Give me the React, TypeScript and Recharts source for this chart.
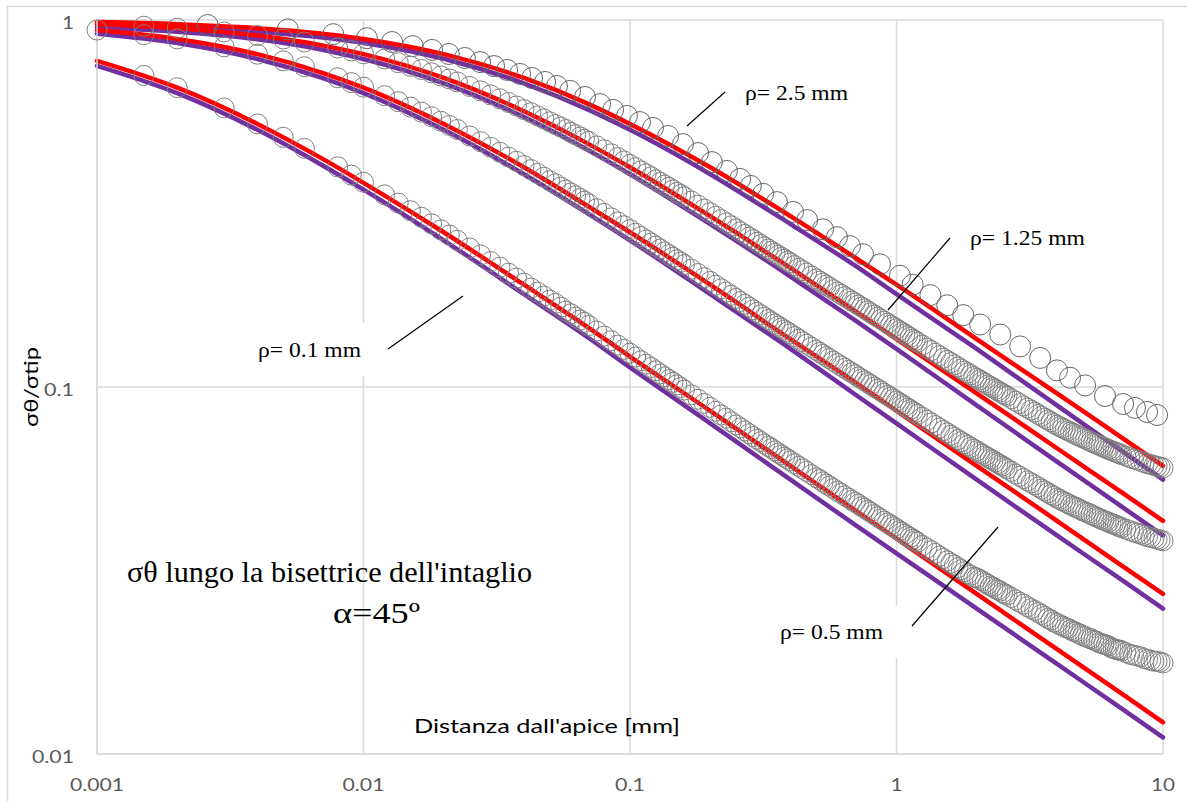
import { ComposedChart, Line, Scatter, XAxis, YAxis, CartesianGrid } from 'recharts';

const W = 1187;
const H = 801;
const serif = "'Liberation Serif', 'Times New Roman', serif";
const sans = "Lato, 'Noto Sans', sans-serif";
const RED = '#ff0000';
const PURPLE = '#7030a0';

// distance from the notch tip (mm) where the continuous curves are sampled
const curveX = [0.001, 0.002, 0.004, 0.007, 0.01, 0.02, 0.04, 0.07, 0.1, 0.2, 0.4, 0.7, 1, 2, 4, 7, 10];

const redRho25 = [0.987, 0.974, 0.950, 0.918, 0.888, 0.807, 0.695, 0.590, 0.521, 0.397, 0.292, 0.225, 0.190, 0.135, 0.0961, 0.0728, 0.0610];
const purpleRho25 = [0.969, 0.954, 0.929, 0.896, 0.866, 0.784, 0.672, 0.569, 0.502, 0.380, 0.278, 0.214, 0.179, 0.127, 0.0891, 0.0670, 0.0559];
const redRho125 = [0.974, 0.950, 0.907, 0.853, 0.807, 0.695, 0.564, 0.459, 0.397, 0.292, 0.211, 0.161, 0.135, 0.0961, 0.0681, 0.0516, 0.0432];
const purpleRho125 = [0.954, 0.929, 0.886, 0.830, 0.783, 0.672, 0.544, 0.441, 0.380, 0.278, 0.200, 0.152, 0.127, 0.0891, 0.0626, 0.0472, 0.0394];
const redRho05 = [0.939, 0.888, 0.807, 0.718, 0.654, 0.521, 0.397, 0.310, 0.264, 0.190, 0.135, 0.103, 0.0861, 0.0610, 0.0432, 0.0326, 0.0273];
const purpleRho05 = [0.918, 0.866, 0.783, 0.695, 0.632, 0.502, 0.380, 0.296, 0.251, 0.179, 0.127, 0.0954, 0.0796, 0.0559, 0.0394, 0.0298, 0.0249];
const redRho01 = [0.774, 0.654, 0.521, 0.419, 0.360, 0.264, 0.190, 0.145, 0.121, 0.0861, 0.0610, 0.0461, 0.0386, 0.0273, 0.0193, 0.0146, 0.0122];
const purpleRho01 = [0.750, 0.632, 0.502, 0.402, 0.345, 0.251, 0.179, 0.136, 0.113, 0.0796, 0.0559, 0.0421, 0.0352, 0.0249, 0.0176, 0.0133, 0.0111];

// rho = 2.5 mm: sparse points
const pointsRho25X = [0.0026, 0.0052, 0.0077, 0.0103, 0.0128, 0.0153, 0.0181, 0.0209, 0.024, 0.0274, 0.0309, 0.0346, 0.0387, 0.0429, 0.048, 0.0532, 0.0596, 0.0678, 0.0772, 0.0864, 0.0974, 0.109, 0.122, 0.139, 0.158, 0.18, 0.203, 0.231, 0.259, 0.284, 0.316, 0.356, 0.409, 0.462, 0.53, 0.598, 0.669, 0.749, 0.867, 1.03, 1.15, 1.34, 1.55, 1.78, 2.06, 2.45, 2.91, 3.46, 4.0, 4.48, 5.1, 6.06, 7.08, 7.85, 8.71, 9.5];
const pointsRho25Y = [0.969, 0.943, 0.915, 0.892, 0.871, 0.849, 0.829, 0.808, 0.788, 0.768, 0.749, 0.731, 0.713, 0.695, 0.678, 0.661, 0.641, 0.617, 0.590, 0.569, 0.548, 0.527, 0.508, 0.483, 0.459, 0.434, 0.410, 0.388, 0.369, 0.353, 0.336, 0.319, 0.300, 0.285, 0.269, 0.256, 0.242, 0.230, 0.216, 0.201, 0.190, 0.178, 0.167, 0.157, 0.148, 0.139, 0.129, 0.120, 0.111, 0.106, 0.101, 0.0945, 0.0899, 0.0877, 0.0855, 0.0839];

// dense points shared by rho = 1.25, 0.5 and 0.1 mm
const denseX = [
  0.001, 0.0015, 0.002, 0.003, 0.004, 0.005, 0.006, 0.008, 0.009, 0.01,
  0.012, 0.0135, 0.015, 0.0165, 0.018, 0.0195, 0.021, 0.0225, 0.025, 0.0275,
  0.03, 0.0325, 0.035, 0.0375, 0.04, 0.0425, 0.045, 0.0475, 0.05, 0.0525,
  0.055, 0.0575, 0.06, 0.0625, 0.065, 0.0675, 0.07, 0.075, 0.08, 0.085,
  0.09, 0.095, 0.1, 0.105, 0.11, 0.115, 0.12, 0.125, 0.13, 0.135,
  0.14, 0.145, 0.15, 0.155, 0.16, 0.17, 0.18, 0.19, 0.2, 0.21,
  0.22, 0.23, 0.24, 0.25, 0.26, 0.27, 0.28, 0.29, 0.3, 0.31,
  0.32, 0.33, 0.34, 0.35, 0.36, 0.37, 0.38, 0.39, 0.4, 0.415,
  0.43, 0.445, 0.46, 0.48, 0.5, 0.515, 0.53, 0.545, 0.56, 0.58,
  0.6, 0.62, 0.64, 0.66, 0.68, 0.7, 0.72, 0.74, 0.76, 0.78,
  0.8, 0.825, 0.85, 0.875, 0.9, 0.925, 0.95, 0.975, 1, 1.025,
  1.05, 1.075, 1.1, 1.125, 1.15, 1.175, 1.2, 1.25, 1.3, 1.35,
  1.4, 1.45, 1.5, 1.55, 1.6, 1.65, 1.7, 1.75, 1.8, 1.85,
  1.9, 1.95, 2, 2.05, 2.1, 2.15, 2.2, 2.25, 2.3, 2.35,
  2.4, 2.45, 2.5, 2.55, 2.6, 2.7, 2.8, 2.9, 3, 3.1,
  3.2, 3.3, 3.4, 3.5, 3.6, 3.7, 3.8, 3.9, 4, 4.1,
  4.2, 4.3, 4.4, 4.5, 4.6, 4.7, 4.8, 4.9, 5, 5.125,
  5.25, 5.375, 5.5, 5.625, 5.75, 5.875, 6, 6.125, 6.25, 6.375,
  6.5, 6.625, 6.75, 6.875, 7, 7.25, 7.5, 7.75, 8, 8.25,
  8.5, 8.75, 9, 9.25, 9.5, 9.75, 10,
];
const pointsRho125 = [
  null, 0.962, 0.950, 0.928, 0.907, 0.888, 0.871, 0.839, 0.824, 0.809,
  0.783, 0.765, 0.748, 0.733, 0.718, 0.704, 0.691, 0.678, 0.659, 0.641,
  0.625, 0.610, 0.596, 0.583, 0.570, 0.559, 0.548, 0.538, 0.528, 0.519,
  0.511, 0.503, 0.494, 0.487, 0.480, 0.473, 0.467, 0.454, 0.443, 0.432,
  0.422, 0.413, 0.404, 0.396, 0.388, 0.381, 0.374, 0.367, 0.361, 0.355,
  0.350, 0.3445, 0.339, 0.3345, 0.330, 0.321, 0.313, 0.3054, 0.2985, 0.292,
  0.286, 0.2802, 0.275, 0.2697, 0.265, 0.2604, 0.256, 0.252, 0.248, 0.2444,
  0.241, 0.2376, 0.2344, 0.2313, 0.2284, 0.2255, 0.2229, 0.2203, 0.2178, 0.2142,
  0.2107, 0.2075, 0.2044, 0.2005, 0.1969, 0.1943, 0.1918, 0.1894, 0.1871, 0.1842,
  0.1814, 0.1788, 0.1762, 0.1739, 0.1715, 0.1694, 0.1672, 0.1651, 0.1633, 0.1612,
  0.1593, 0.1571, 0.1550, 0.1530, 0.1511, 0.1492, 0.1475, 0.1457, 0.1441, 0.1424,
  0.1409, 0.1394, 0.1379, 0.1365, 0.1351, 0.1338, 0.1325, 0.1301, 0.1277, 0.1257,
  0.1236, 0.1217, 0.1198, 0.1181, 0.1165, 0.1149, 0.1134, 0.1119, 0.1105, 0.1092,
  0.1080, 0.1067, 0.1056, 0.1045, 0.1034, 0.1024, 0.1013, 0.1004, 0.0995, 0.0986,
  0.0977, 0.0968, 0.0960, 0.0952, 0.0944, 0.0929, 0.0915, 0.0901, 0.0888, 0.0876,
  0.0865, 0.0854, 0.0842, 0.0832, 0.0822, 0.0813, 0.0804, 0.0795, 0.0787, 0.0780,
  0.0773, 0.0766, 0.0760, 0.0754, 0.0748, 0.0742, 0.0737, 0.0732, 0.0727, 0.0721,
  0.0715, 0.0709, 0.0704, 0.0699, 0.0694, 0.0689, 0.0685, 0.0680, 0.0676, 0.0672,
  0.0668, 0.0665, 0.0661, 0.0658, 0.0654, 0.0648, 0.0642, 0.0637, 0.0632, 0.0627,
  0.0622, 0.0618, 0.0615, 0.0611, 0.0608, 0.0605, 0.0602,
];
const pointsRho05 = [
  0.939, 0.912, 0.888, 0.845, 0.807, 0.774, 0.746, 0.696, 0.675, 0.656,
  0.622, 0.599, 0.579, 0.561, 0.545, 0.530, 0.516, 0.503, 0.483, 0.466,
  0.450, 0.436, 0.423, 0.412, 0.401, 0.391, 0.382, 0.373, 0.365, 0.358,
  0.3506, 0.344, 0.3378, 0.332, 0.3263, 0.321, 0.3157, 0.306, 0.2972, 0.289,
  0.2818, 0.275, 0.2685, 0.2625, 0.2569, 0.2516, 0.2467, 0.242, 0.2376, 0.2335,
  0.2295, 0.2257, 0.2221, 0.2187, 0.2155, 0.2093, 0.2038, 0.1986, 0.1939, 0.1894,
  0.1852, 0.1814, 0.1777, 0.1743, 0.1710, 0.1680, 0.1651, 0.1623, 0.1597, 0.1572,
  0.1549, 0.1527, 0.1506, 0.1485, 0.1466, 0.1447, 0.1430, 0.1413, 0.1396, 0.1373,
  0.1350, 0.1328, 0.1308, 0.1283, 0.1259, 0.1242, 0.1226, 0.1210, 0.1195, 0.1176,
  0.1158, 0.1141, 0.1125, 0.1109, 0.1094, 0.1080, 0.1065, 0.1052, 0.1039, 0.1027,
  0.1015, 0.1000, 0.0987, 0.0974, 0.0961, 0.0949, 0.0938, 0.0927, 0.0916, 0.0906,
  0.0895, 0.0886, 0.0876, 0.0868, 0.0858, 0.0851, 0.0842, 0.0827, 0.0812, 0.0798,
  0.0785, 0.0773, 0.0761, 0.0750, 0.0739, 0.0729, 0.0719, 0.0710, 0.0701, 0.0693,
  0.0685, 0.0677, 0.0670, 0.0663, 0.0656, 0.0649, 0.0643, 0.0637, 0.0631, 0.0625,
  0.0619, 0.0614, 0.0609, 0.0604, 0.0598, 0.0589, 0.0579, 0.0571, 0.0563, 0.0555,
  0.0548, 0.0541, 0.0534, 0.0527, 0.0521, 0.0515, 0.0509, 0.0504, 0.0498, 0.0494,
  0.0489, 0.0485, 0.0481, 0.0477, 0.0473, 0.0470, 0.0467, 0.0463, 0.0460, 0.0456,
  0.0453, 0.0449, 0.0446, 0.0442, 0.0439, 0.0436, 0.0433, 0.0431, 0.0428, 0.0425,
  0.0423, 0.0421, 0.0418, 0.0416, 0.0414, 0.0410, 0.0406, 0.0403, 0.0400, 0.0397,
  0.0394, 0.0391, 0.0389, 0.0387, 0.0385, 0.0383, 0.0381,
];
const pointsRho01 = [
  null, 0.706, 0.654, 0.576, 0.521, 0.479, 0.447, 0.398, 0.378, 0.3614,
  0.3339, 0.317, 0.3022, 0.290, 0.2784, 0.268, 0.2594, 0.251, 0.2392, 0.229,
  0.2197, 0.212, 0.2042, 0.198, 0.1918, 0.186, 0.1814, 0.177, 0.1725, 0.169,
  0.1650, 0.161, 0.1583, 0.155, 0.1523, 0.150, 0.1470, 0.1421, 0.1377, 0.1337,
  0.1301, 0.1267, 0.1236, 0.1207, 0.1179, 0.1154, 0.1130, 0.1107, 0.1086, 0.1066,
  0.1047, 0.1030, 0.1013, 0.0997, 0.0981, 0.0952, 0.0926, 0.0902, 0.0880, 0.0859,
  0.0839, 0.0822, 0.0804, 0.0788, 0.0774, 0.0759, 0.0746, 0.0733, 0.0721, 0.0710,
  0.0699, 0.0689, 0.0680, 0.0670, 0.0661, 0.0653, 0.0644, 0.0637, 0.0629, 0.0618,
  0.0608, 0.0598, 0.0589, 0.0577, 0.0566, 0.0559, 0.0551, 0.0544, 0.0537, 0.0529,
  0.0520, 0.0513, 0.0505, 0.0498, 0.0491, 0.0485, 0.0479, 0.0472, 0.0467, 0.0461,
  0.0456, 0.0449, 0.0443, 0.0437, 0.0431, 0.0426, 0.0421, 0.0416, 0.0411, 0.0406,
  0.0402, 0.0397, 0.0393, 0.0389, 0.0385, 0.0381, 0.0378, 0.0370, 0.0364, 0.0358,
  0.0352, 0.0346, 0.0341, 0.0336, 0.0331, 0.0327, 0.0322, 0.0318, 0.0314, 0.0310,
  0.0307, 0.0303, 0.0302, 0.0299, 0.0296, 0.0293, 0.0290, 0.0287, 0.0285, 0.0282,
  0.0280, 0.0278, 0.0275, 0.0273, 0.0271, 0.0267, 0.0263, 0.0259, 0.0256, 0.0252,
  0.0249, 0.0246, 0.0243, 0.0240, 0.0237, 0.0234, 0.0232, 0.0229, 0.0227, 0.0225,
  0.0223, 0.0221, 0.0220, 0.0218, 0.0216, 0.0215, 0.0213, 0.0212, 0.0210, 0.0209,
  0.0207, 0.0206, 0.0204, 0.0203, 0.0201, 0.0200, 0.0199, 0.0198, 0.0197, 0.0195,
  0.0194, 0.0193, 0.0192, 0.0192, 0.0191, 0.0189, 0.0187, 0.0186, 0.0185, 0.0184,
  0.0182, 0.0181, 0.0180, 0.0179, 0.0179, 0.0178, 0.0177,
];

const xTicks = [0.001, 0.01, 0.1, 1, 10];
const yTicks = [0.01, 0.1, 1];

const rows = (xs: number[], ys: (number | null)[]) =>
  xs.map((x, i) => ({ x, y: ys[i] })).filter((p) => p.y != null);

const curves = [
  { key: 'p25', data: rows(curveX, purpleRho25), color: PURPLE },
  { key: 'p125', data: rows(curveX, purpleRho125), color: PURPLE },
  { key: 'p05', data: rows(curveX, purpleRho05), color: PURPLE },
  { key: 'p01', data: rows(curveX, purpleRho01), color: PURPLE },
  { key: 'r25', data: rows(curveX, redRho25), color: RED },
  { key: 'r125', data: rows(curveX, redRho125), color: RED },
  { key: 'r05', data: rows(curveX, redRho05), color: RED },
  { key: 'r01', data: rows(curveX, redRho01), color: RED },
];

const points = [
  { key: 'c25', data: rows(pointsRho25X, pointsRho25Y), color: '#666666', r: 10.5 },
  { key: 'c125', data: rows(denseX, pointsRho125), color: '#808080', r: 10 },
  { key: 'c05', data: rows(denseX, pointsRho05), color: '#808080', r: 10 },
  { key: 'c01', data: rows(denseX, pointsRho01), color: '#808080', r: 10 },
];

// callouts: text baseline position, text width and pointer segment
const notes = [
  { text: 'ρ= 2.5 mm', x: 745, y: 100, w: 103, line: [725, 92, 687, 126] },
  { text: 'ρ= 1.25 mm', x: 970, y: 245, w: 115, line: [950, 238, 888, 310] },
  { text: 'ρ= 0.1 mm', x: 258, y: 357, w: 103, line: [463, 296, 388, 349] },
  { text: 'ρ= 0.5 mm', x: 780, y: 639, w: 103, line: [998, 527, 912, 626] },
];

const tickLen = (s: string) => {
  const dot = s.includes('.');
  return (s.length - (dot ? 1 : 0)) * 12 + (dot ? 6 : 0);
};

function XTick({ x, y, payload }: any) {
  const s = String(payload.value);
  return (
    <text x={x} y={y} dy={15} textAnchor="middle" fill="#595959" fontSize={18} fontFamily={sans}
      textLength={tickLen(s)} lengthAdjust="spacingAndGlyphs">{s}</text>
  );
}

function YTick({ x, y, payload }: any) {
  const s = String(payload.value);
  return (
    <text x={x} y={y} dy={8.5} textAnchor="end" fill="#595959" fontSize={18} fontFamily={sans}
      textLength={tickLen(s)} lengthAdjust="spacingAndGlyphs">{s}</text>
  );
}

export default function App() {
  return (
    <div style={{ position: 'absolute', left: 0, top: 0, width: W, height: H, background: '#fff' }}>
      <ComposedChart width={W} height={H} margin={{ top: 20, right: 24, bottom: 0, left: 0 }}>
        <CartesianGrid stroke="#d9d9d9" strokeWidth={1.5} />
        <XAxis dataKey="x" type="number" scale="log" domain={[0.001, 10]} ticks={xTicks} interval={0}
          height={47} tickSize={0} tickMargin={22} tickLine={false}
          axisLine={{ stroke: '#d9d9d9', strokeWidth: 1.5 }} tick={(p: any) => <XTick {...p} />} />
        <YAxis dataKey="y" type="number" scale="log" domain={[0.01, 1]} ticks={yTicks} interval={0}
          width={97} tickSize={0} tickMargin={23} tickLine={false}
          axisLine={{ stroke: '#d9d9d9', strokeWidth: 1.5 }} tick={(p: any) => <YTick {...p} />} />
        {curves.map((c) => (
          <Line key={c.key} data={c.data} dataKey="y" type="monotone" stroke={c.color} strokeWidth={4.5}
            strokeLinecap="round" dot={false} activeDot={false} isAnimationActive={false} />
        ))}
        {points.map((s) => (
          <Scatter key={s.key} data={s.data} isAnimationActive={false}
            shape={(p: any) => <circle cx={p.cx} cy={p.cy} r={s.r} fill="none" stroke={s.color} strokeWidth={1} />} />
        ))}
      </ComposedChart>

      <svg width={W} height={H} style={{ position: 'absolute', left: 0, top: 0, pointerEvents: 'none' }}>
        <rect x={7.5} y={6.5} width={W} height={H} fill="none" stroke="#d9d9d9" strokeWidth={1.5} />
        {notes.map((n) => (
          <g key={n.text}>
            <rect x={n.x - 18} y={n.y - 34} width={n.w + 36} height={53} fill="#fff" />
            <text x={n.x} y={n.y} fontFamily={serif} fontSize={21} fill="#000"
              textLength={n.w} lengthAdjust="spacingAndGlyphs">{n.text}</text>
            <line x1={n.line[0]} y1={n.line[1]} x2={n.line[2]} y2={n.line[3]} stroke="#000" strokeWidth={1.2} />
          </g>
        ))}
        <text x={127} y={582} fontFamily={serif} fontSize={30} fill="#000"
          textLength={405} lengthAdjust="spacingAndGlyphs">σθ lungo la bisettrice dell'intaglio</text>
        <text x={333} y={623} fontFamily={serif} fontSize={30} fill="#000"
          textLength={87} lengthAdjust="spacingAndGlyphs">α=45º</text>
        <text x={547} y={733} textAnchor="middle" fontFamily={sans} fontSize={20} fill="#000"
          textLength={266} lengthAdjust="spacingAndGlyphs">Distanza dall'apice [mm]</text>
        <text transform="translate(38,387) rotate(-90)" textAnchor="middle" fontFamily={sans} fontSize={19} fill="#000"
          textLength={80} lengthAdjust="spacingAndGlyphs">σθ/σtip</text>
      </svg>
    </div>
  );
}
